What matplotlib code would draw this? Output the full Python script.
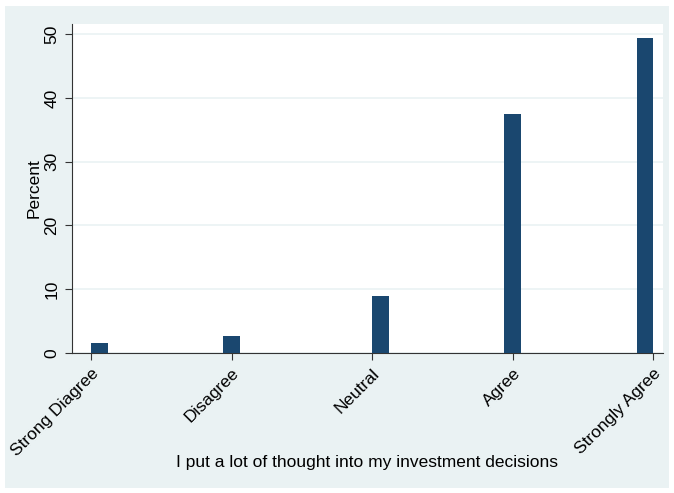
import numpy as np
import matplotlib
matplotlib.use('Agg')
import matplotlib.pyplot as plt
from matplotlib.patches import Rectangle

# datos
categorias = ['Strong Diagree', 'Disagree', 'Neutral', 'Agree', 'Strongly Agree']
valores = [1, 2, 3, 4, 5]
porcentaje = [1.5, 2.6, 9.0, 37.5, 49.4]
n_bins = 34

plt.rcParams['font.family'] = ['Liberation Sans', 'DejaVu Sans']

fig = plt.figure(figsize=(6.74, 4.93), dpi=100, facecolor='white')
# fondo estilo Stata
fondo = Rectangle((5 / 674, 5 / 493), 664 / 674, 482 / 493,
                  transform=fig.transFigure, facecolor='#EAF2F3',
                  edgecolor='none', zorder=-10)
fig.add_artist(fondo)

ax = fig.add_axes([72 / 674, 140 / 493, 591 / 674, 329 / 493])
ax.set_facecolor('white')

ax.hist(valores, bins=n_bins, range=(1, 5), weights=porcentaje,
        color='#1A476F', edgecolor='none', zorder=3)

ax.set_xlim(0.865, 5.07)
ax.set_ylim(0, 51.6)
ax.set_yticks([0, 10, 20, 30, 40, 50])
ax.set_xticks(valores)
ax.set_xticklabels(categorias, rotation=45, ha='right', rotation_mode='anchor')
ax.tick_params(axis='y', labelrotation=90, labelsize=12.5, length=5, color='#333333', pad=4)
ax.tick_params(axis='x', labelsize=12.5, length=5, color='#333333', pad=4)
for lab in ax.get_yticklabels():
    lab.set_va('center')

ax.grid(axis='y', color='#EAF2F3', linewidth=1.2, zorder=1)
ax.set_axisbelow(True)
for s in ['top', 'right']:
    ax.spines[s].set_visible(False)
for s in ['left', 'bottom']:
    ax.spines[s].set_color('#333333')

ax.set_ylabel('Percent', fontsize=12.5, labelpad=2)
ax.set_xlabel('I put a lot of thought into my investment decisions', fontsize=12.5, labelpad=-3)

fig.savefig('out.png', dpi=100, facecolor=fig.get_facecolor())
